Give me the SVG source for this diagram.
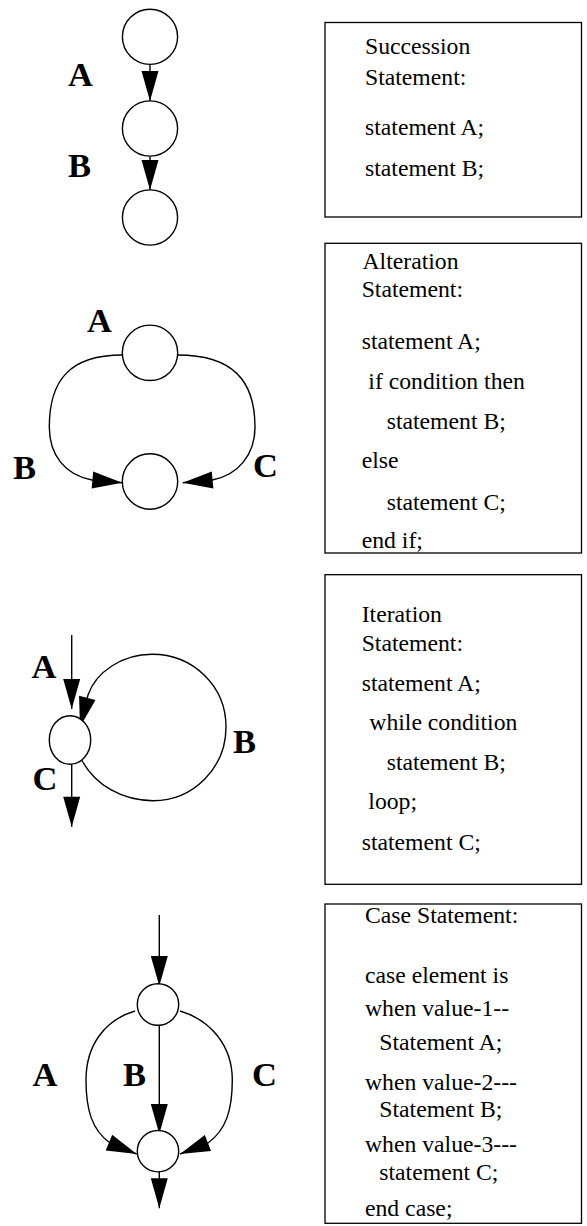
<svg xmlns="http://www.w3.org/2000/svg" width="587" height="1226" viewBox="0 0 587 1226">
<style>
.n{fill:#fff;stroke:#000;stroke-width:1.4}
.e{fill:none;stroke:#000;stroke-width:1.4;marker-end:url(#ah)}
.box{fill:#fff;stroke:#000;stroke-width:1.3}
.t{font-family:"Liberation Serif","Times New Roman",serif;font-size:23.7px;fill:#000}
.lb{font-family:"Liberation Serif","Times New Roman",serif;font-size:34.5px;font-weight:bold;fill:#000}
</style>
<defs>
<marker id="ah" markerUnits="userSpaceOnUse" markerWidth="32" markerHeight="18" refX="30" refY="8.5" orient="auto" overflow="visible">
<path d="M0,0 L30,8.5 L0,17 Z" fill="#000"/>
</marker>
</defs>
<rect width="587" height="1226" fill="#fff"/>

<g id="connectors">
<!-- succession -->
<path class="e" d="M150,64.5 L150,101"/>
<path class="e" d="M150,156.5 L150,190"/>
<text class="lb" x="68" y="85.7">A</text>
<text class="lb" x="68" y="176.7">B</text>
<!-- alteration -->
<path class="e" d="M122.3,355 C70,355 49.3,380 49.3,427 C49.3,455 65,475 92,480 L122.3,482.7"/>
<path class="e" d="M177.7,355 C232,355 255,380 255,427 C255,455 238,475 212.3,480 L182.7,482.7"/>
<text class="lb" x="87" y="331.7">A</text>
<text class="lb" x="13" y="479.3">B</text>
<text class="lb" x="253" y="476.7">C</text>
<!-- iteration -->
<path class="e" d="M71.7,635 L71.7,709"/>
<path class="e" d="M71.7,764.3 L71.7,826.7"/>
<path class="e" d="M81.7,760 C95,785 122,800.7 153.3,800.7 C193,800.7 226,768 226,727 C226,686 193,654.3 152,654.3 C122,654.3 96,672 88,695 L80,727"/>
<text class="lb" x="31.5" y="678.3">A</text>
<text class="lb" x="233" y="752.7">B</text>
<text class="lb" x="32.5" y="790">C</text>
<!-- case -->
<path class="e" d="M159.3,915 L159.3,986"/>
<path class="e" d="M159.3,1025 L159.3,1134"/>
<path class="e" d="M159.3,1172 L159.3,1208.3"/>
<path class="e" d="M135,1011 C105,1020 86,1045 86,1080 C86,1110 92,1130 110,1143 L136.7,1154"/>
<path class="e" d="M180,1011 C210,1020 232.3,1045 232.3,1080 C232.3,1110 226,1130 208,1143 L180,1154"/>
<text class="lb" x="32.5" y="1086">A</text>
<text class="lb" x="123" y="1086">B</text>
<text class="lb" x="252" y="1086">C</text>
</g>

<g id="succ-n1"><circle class="n" cx="150" cy="36.8" r="27.6"/></g>
<g id="succ-n2"><circle class="n" cx="150" cy="128.5" r="27.6"/></g>
<g id="succ-n3"><circle class="n" cx="150" cy="217.5" r="27.6"/></g>

<g id="alt-n1"><circle class="n" cx="150" cy="352.8" r="27.7"/></g>
<g id="alt-n2"><circle class="n" cx="150" cy="481.5" r="27.7"/></g>

<g id="iter-n1"><ellipse class="n" cx="70" cy="740" rx="20.7" ry="24.3"/></g>

<g id="case-n1"><circle class="n" cx="158" cy="1004.5" r="20.7"/></g>
<g id="case-n2"><circle class="n" cx="158" cy="1151.2" r="20.7"/></g>

<g id="box-succession">
<rect class="box" x="325" y="22.5" width="256.5" height="194.5"/>
<text class="t" x="365" y="54.3">Succession</text>
<text class="t" x="365" y="85">Statement:</text>
<text class="t" x="365" y="135">statement A;</text>
<text class="t" x="365" y="176">statement B;</text>
</g>

<g id="box-alteration">
<rect class="box" x="325" y="243.3" width="256.5" height="309.7"/>
<text class="t" x="362.5" y="268.5">Alteration</text>
<text class="t" x="361.7" y="297.3">Statement:</text>
<text class="t" x="361.7" y="349">statement A;</text>
<text class="t" x="368.3" y="389">if condition then</text>
<text class="t" x="386.7" y="428.7">statement B;</text>
<text class="t" x="361.7" y="468">else</text>
<text class="t" x="386.7" y="509.5">statement C;</text>
<text class="t" x="361.7" y="548.3">end if;</text>
</g>

<g id="box-iteration">
<rect class="box" x="325" y="574.7" width="256.5" height="309.6"/>
<text class="t" x="361.7" y="622.3">Iteration</text>
<text class="t" x="361.7" y="651">Statement:</text>
<text class="t" x="361.7" y="691">statement A;</text>
<text class="t" x="369.3" y="730">while condition</text>
<text class="t" x="386.7" y="770">statement B;</text>
<text class="t" x="368.3" y="809">loop;</text>
<text class="t" x="361.7" y="850">statement C;</text>
</g>

<g id="box-case">
<rect class="box" x="325" y="904" width="256.5" height="319.3"/>
<text class="t" x="365" y="923.3">Case Statement:</text>
<text class="t" x="365" y="983">case element is</text>
<text class="t" x="365" y="1016">when value-1--</text>
<text class="t" x="379.3" y="1050">Statement A;</text>
<text class="t" x="365" y="1089.5">when value-2---</text>
<text class="t" x="379.3" y="1116.7">Statement B;</text>
<text class="t" x="365" y="1152.3">when value-3---</text>
<text class="t" x="379.3" y="1180">statement C;</text>
<text class="t" x="365" y="1216">end case;</text>
</g>
</svg>
